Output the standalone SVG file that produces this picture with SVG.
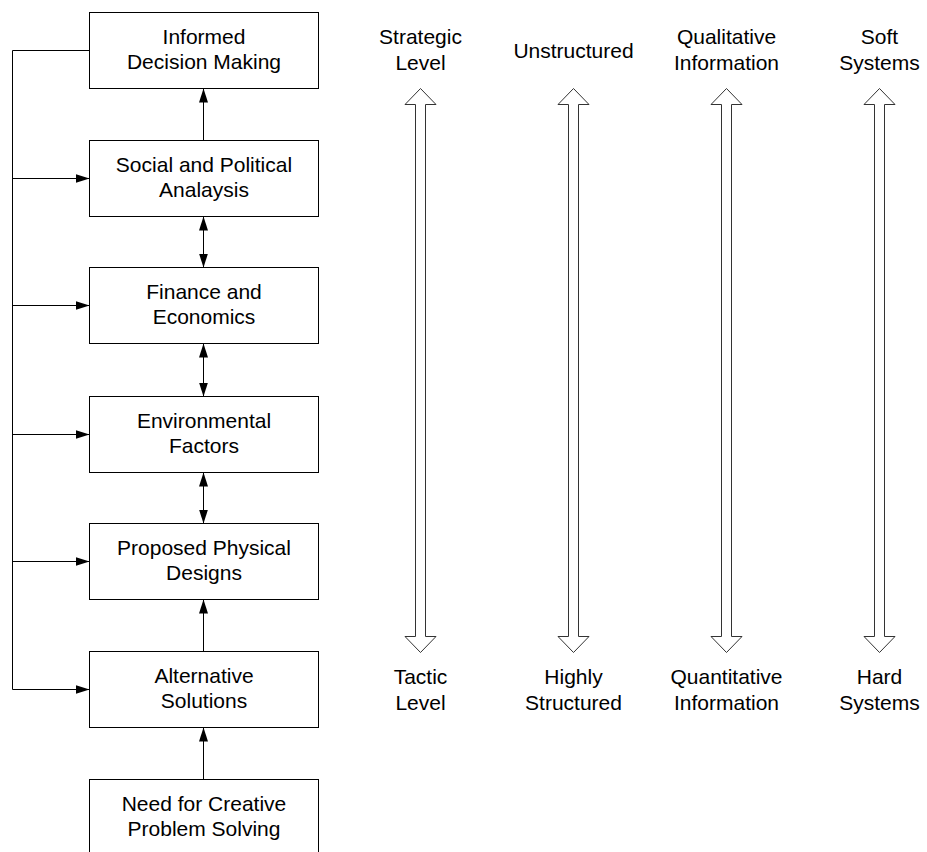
<svg xmlns="http://www.w3.org/2000/svg" width="927" height="852" viewBox="0 0 927 852">
  <style>
    .box { fill: #ffffff; stroke: #000000; stroke-width: 1; }
    .lbl { font-family: "Liberation Sans", Arial, sans-serif; font-size: 21px; fill: #000000; text-anchor: middle; }
    .wire { fill: none; stroke: #000000; stroke-width: 1; }
    .hollow { fill: #ffffff; stroke: #333333; stroke-width: 1; }
  </style>
  <defs>
    <marker id="head" markerUnits="userSpaceOnUse" markerWidth="15" markerHeight="10" refX="14" refY="5" orient="auto-start-reverse" viewBox="0 0 15 10">
      <path d="M0,0.5 L14,5 L0,9.5 Z" fill="#000000"/>
    </marker>
  </defs>
  <rect width="927" height="852" fill="#ffffff"/>

  <!-- connectors -->
  <g id="connectors">
    <polyline class="wire" points="89.5,50.5 12.5,50.5 12.5,689.5"/>
    <line class="wire" x1="12.5" y1="178.5" x2="89.5" y2="178.5" marker-end="url(#head)"/>
    <line class="wire" x1="12.5" y1="305.5" x2="89.5" y2="305.5" marker-end="url(#head)"/>
    <line class="wire" x1="12.5" y1="434.5" x2="89.5" y2="434.5" marker-end="url(#head)"/>
    <line class="wire" x1="12.5" y1="561.5" x2="89.5" y2="561.5" marker-end="url(#head)"/>
    <line class="wire" x1="12.5" y1="689.5" x2="89.5" y2="689.5" marker-end="url(#head)"/>
    <line class="wire" x1="203.5" y1="140.5" x2="203.5" y2="88.5" marker-end="url(#head)"/>
    <line class="wire" x1="203.5" y1="216.5" x2="203.5" y2="267.5" marker-start="url(#head)" marker-end="url(#head)"/>
    <line class="wire" x1="203.5" y1="343.5" x2="203.5" y2="396.5" marker-start="url(#head)" marker-end="url(#head)"/>
    <line class="wire" x1="203.5" y1="472.5" x2="203.5" y2="523.5" marker-start="url(#head)" marker-end="url(#head)"/>
    <line class="wire" x1="203.5" y1="651.5" x2="203.5" y2="599.5" marker-end="url(#head)"/>
    <line class="wire" x1="203.5" y1="779.5" x2="203.5" y2="727.5" marker-end="url(#head)"/>
  </g>

  <!-- process boxes -->
  <g id="informed-decision">
    <rect class="box" x="89.5" y="12.5" width="229" height="76"/>
    <text class="lbl" x="204" y="44">Informed</text>
    <text class="lbl" x="204" y="69">Decision Making</text>
  </g>
  <g id="social-political">
    <rect class="box" x="89.5" y="140.5" width="229" height="76"/>
    <text class="lbl" x="204" y="172">Social and Political</text>
    <text class="lbl" x="204" y="197">Analaysis</text>
  </g>
  <g id="finance-economics">
    <rect class="box" x="89.5" y="267.5" width="229" height="76"/>
    <text class="lbl" x="204" y="299">Finance and</text>
    <text class="lbl" x="204" y="324">Economics</text>
  </g>
  <g id="environmental">
    <rect class="box" x="89.5" y="396.5" width="229" height="76"/>
    <text class="lbl" x="204" y="428">Environmental</text>
    <text class="lbl" x="204" y="453">Factors</text>
  </g>
  <g id="physical-designs">
    <rect class="box" x="89.5" y="523.5" width="229" height="76"/>
    <text class="lbl" x="204" y="555">Proposed Physical</text>
    <text class="lbl" x="204" y="580">Designs</text>
  </g>
  <g id="alternative-solutions">
    <rect class="box" x="89.5" y="651.5" width="229" height="76"/>
    <text class="lbl" x="204" y="683">Alternative</text>
    <text class="lbl" x="204" y="708">Solutions</text>
  </g>
  <g id="creative-need">
    <rect class="box" x="89.5" y="779.5" width="229" height="80"/>
    <text class="lbl" x="204" y="811">Need for Creative</text>
    <text class="lbl" x="204" y="836">Problem Solving</text>
  </g>

  <!-- spectrum scales -->
  <g id="scale-level">
    <polygon class="hollow" points="420.5,88.5 436,104.5 425.5,104.5 425.5,636.5 436,636.5 420.5,652.5 405,636.5 415.5,636.5 415.5,104.5 405,104.5"/>
    <text class="lbl" x="420.5" y="44">Strategic</text>
    <text class="lbl" x="420.5" y="70">Level</text>
    <text class="lbl" x="420.5" y="684">Tactic</text>
    <text class="lbl" x="420.5" y="710">Level</text>
  </g>
  <g id="scale-structure">
    <polygon class="hollow" points="573.5,88.5 589,104.5 578.5,104.5 578.5,636.5 589,636.5 573.5,652.5 558,636.5 568.5,636.5 568.5,104.5 558,104.5"/>
    <text class="lbl" x="573.5" y="58">Unstructured</text>
    <text class="lbl" x="573.5" y="684">Highly</text>
    <text class="lbl" x="573.5" y="710">Structured</text>
  </g>
  <g id="scale-information">
    <polygon class="hollow" points="726.5,88.5 742,104.5 731.5,104.5 731.5,636.5 742,636.5 726.5,652.5 711,636.5 721.5,636.5 721.5,104.5 711,104.5"/>
    <text class="lbl" x="726.5" y="44">Qualitative</text>
    <text class="lbl" x="726.5" y="70">Information</text>
    <text class="lbl" x="726.5" y="684">Quantitative</text>
    <text class="lbl" x="726.5" y="710">Information</text>
  </g>
  <g id="scale-systems">
    <polygon class="hollow" points="879.5,88.5 895,104.5 884.5,104.5 884.5,636.5 895,636.5 879.5,652.5 864,636.5 874.5,636.5 874.5,104.5 864,104.5"/>
    <text class="lbl" x="879.5" y="44">Soft</text>
    <text class="lbl" x="879.5" y="70">Systems</text>
    <text class="lbl" x="879.5" y="684">Hard</text>
    <text class="lbl" x="879.5" y="710">Systems</text>
  </g>
</svg>
